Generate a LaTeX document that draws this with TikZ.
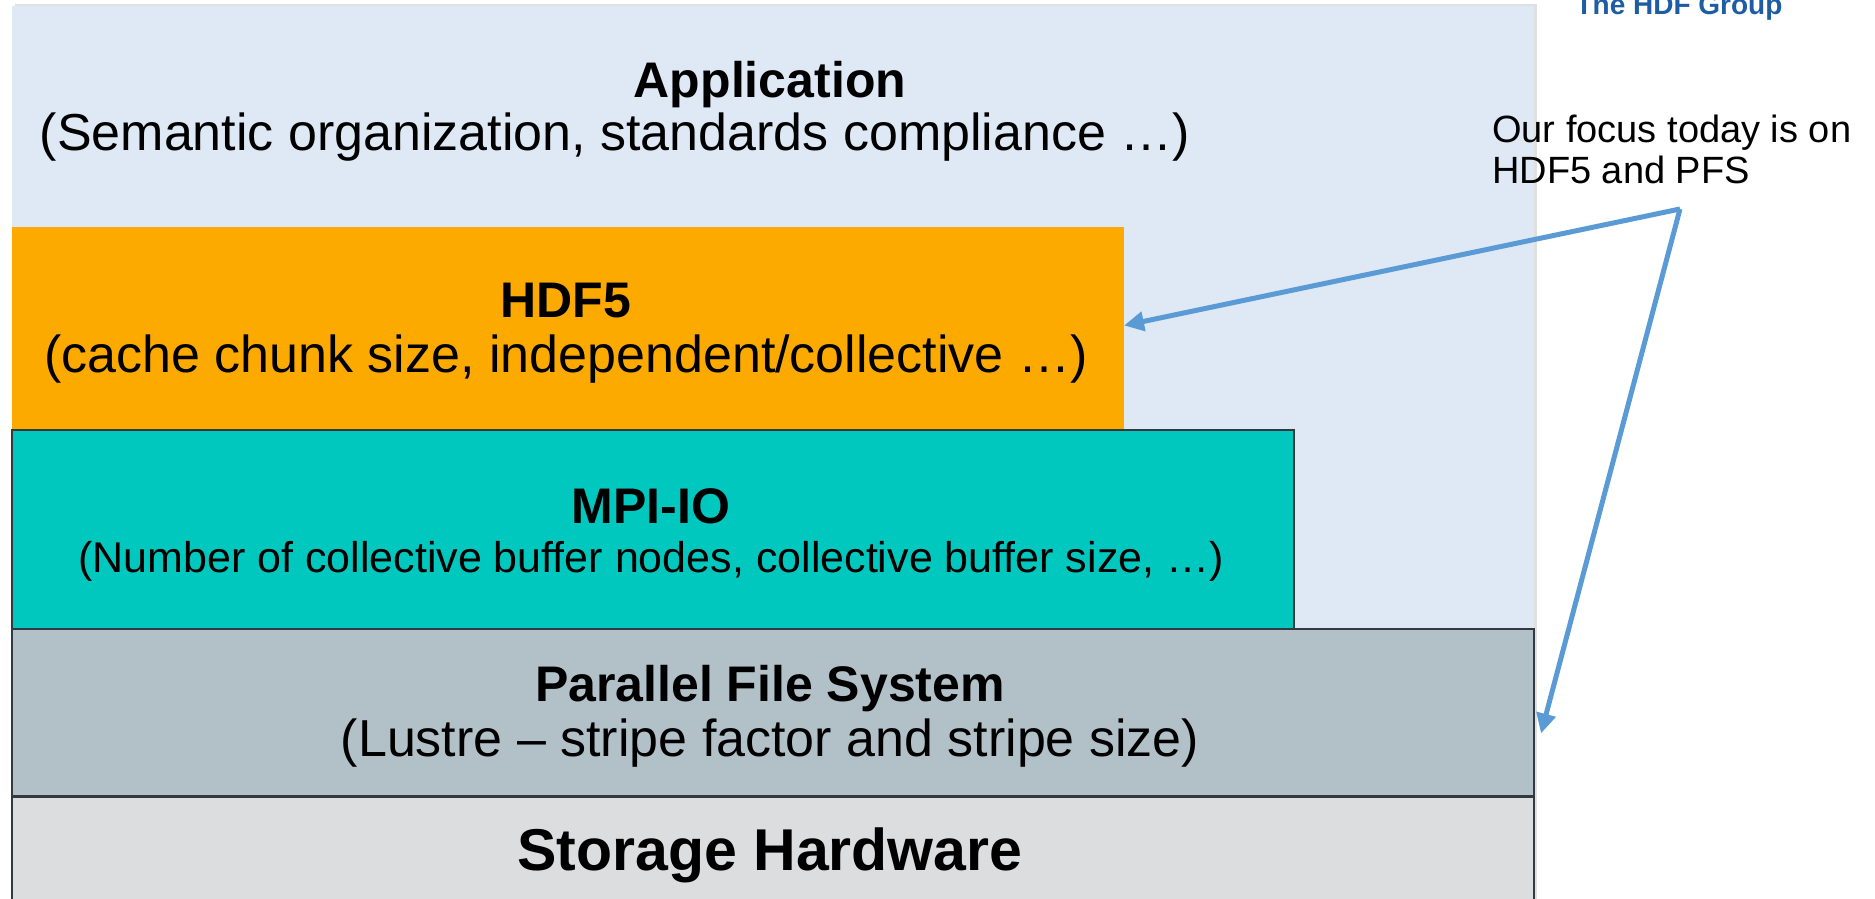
\documentclass[tikz,border=0pt]{standalone}
\usepackage{fontspec}
\setmainfont{Liberation Sans}
\usetikzlibrary{arrows.meta}
\definecolor{appbg}{HTML}{DEE9F5}
\definecolor{hdforange}{HTML}{FDAA00}
\definecolor{mpiteal}{HTML}{00C8BE}
\definecolor{pfsgray}{HTML}{B2C0C8}
\definecolor{storgray}{HTML}{DCDDDF}
\definecolor{arrowblue}{HTML}{5B9BD5}
\definecolor{hdfblue}{HTML}{1E5DA3}
\definecolor{edgegray}{HTML}{333A3F}
\begin{document}
\begin{tikzpicture}[x=1pt,y=-1pt,
  layer/.style={anchor=north west, inner sep=0pt, outer sep=0pt},
  edged/.style={draw=edgegray, line width=1.5pt},
  title/.style={font=\fontsize{50}{60}\selectfont\bfseries, inner sep=0pt, anchor=base},
  sub/.style={font=\fontsize{52}{62}\selectfont, inner sep=0pt, anchor=base},
  note/.style={font=\fontsize{38}{42}\selectfont, inner sep=0pt, anchor=base west},
  pointer/.style={draw=arrowblue, line width=5pt, -{Triangle[length=20pt,width=19pt]}}]
\useasboundingbox (0,0) rectangle (1875,899);
% layers
\fill[black!12] (15,4) rectangle (1537,899);
\node[layer, fill=appbg, minimum width=1522pt, minimum height=893pt] (app) at (12,6) {};
\node[layer, fill=hdforange, minimum width=1112pt, minimum height=203pt] (hdf) at (12,227) {};
\node[layer, fill=storgray, edged, minimum width=1522pt, minimum height=110pt] (stor) at (12,796) {};
\node[layer, fill=pfsgray, edged, minimum width=1522pt, minimum height=167pt] (pfs) at (12,629) {};
\node[layer, fill=mpiteal, edged, minimum width=1282pt, minimum height=199pt] (mpi) at (12,430) {};
\draw[edgegray, line width=3pt] (pfs.south west) -- (pfs.south east);
% texts
\node[title] (appt) at (770,98) {Application};
\node[sub] (apps) at (615,150) {(Semantic organization, standards compliance …)};
\node[title] (hdft) at (566,317) {HDF5};
\node[sub] (hdfs) at (566,372) {(cache chunk size, independent/collective …)};
\node[title] (mpit) at (651,523) {MPI-IO};
\node[sub, font=\fontsize{43}{52}\selectfont] (mpis) at (651,572) {(Number of collective buffer nodes, collective buffer size, …)};
\node[title] (pfst) at (770,701) {Parallel File System};
\node[sub] (pfss) at (770,756) {(Lustre – stripe factor and stripe size)};
\node[title, font=\fontsize{59}{70}\selectfont\bfseries] (stort) at (770,870) {Storage Hardware};
% side notes
\node[font=\fontsize{28}{34}\selectfont\bfseries, text=hdfblue, inner sep=0pt, anchor=base] (group) at (1679,15) {The HDF Group};
\node[note] (focus1) at (1492,142) {Our focus today is on};
\node[note] (focus2) at (1492,183) {HDF5 and PFS};
% arrows
\coordinate (fork) at (1680,209);
\draw[pointer] (fork) -- ([yshift=3pt]hdf.east);
\draw[pointer] (fork) -- ([xshift=7pt,yshift=-21pt]pfs.east);
\end{tikzpicture}
\end{document}
